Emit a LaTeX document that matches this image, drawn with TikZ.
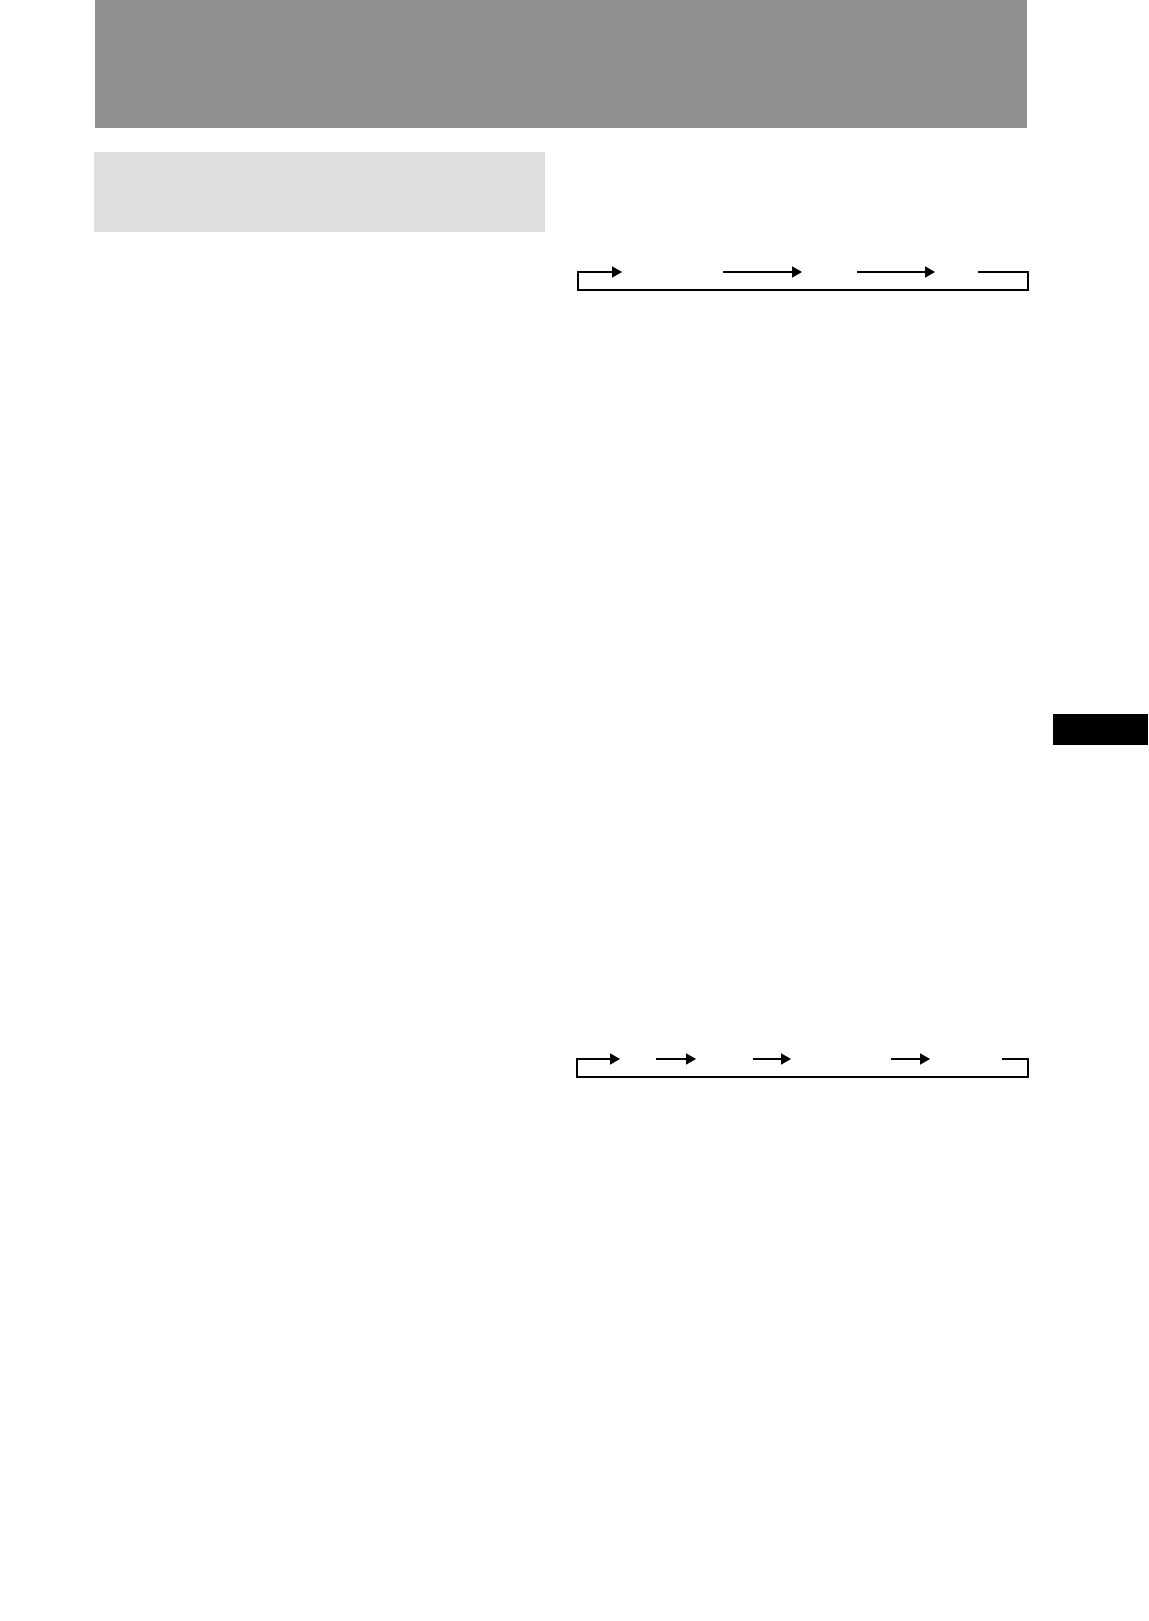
\documentclass[tikz,border=0pt]{standalone}
\usetikzlibrary{arrows.meta}
\definecolor{headgray}{HTML}{8F8F8F}
\definecolor{boxgray}{HTML}{DEDEDE}
\tikzset{flow/.style={line width=1.5pt,line join=miter,-{Triangle[length=10pt,width=11pt]}},
         loopline/.style={line width=1.5pt,line join=miter}}

\begin{document}
\begin{tikzpicture}[x=1pt,y=-1pt]
    \useasboundingbox (0,0) rectangle (1148,1621);
    \fill[headgray] (95,0) rectangle (1027,128);
    \fill[boxgray] (94,152) rectangle (545,232);
    \fill[black] (1053,714) rectangle (1148,745);
    % upper row
    \coordinate (a0) at (578,272);
    \coordinate (a1) at (622,272);
    \coordinate (a2) at (578,290);
    \coordinate (b0) at (723,272);
    \coordinate (b1) at (802,272);
    \coordinate (c0) at (857,272);
    \coordinate (c1) at (935,272);
    \coordinate (d0) at (978,272);
    \coordinate (d1) at (1028,272);
    \coordinate (d2) at (1028,290);
    \draw[flow] (d0) -- (d1) -- (d2) -- (a2) -- (a0) -- (a1);
    \draw[flow] (b0) -- (b1);
    \draw[flow] (c0) -- (c1);
    % lower row
    \coordinate (p0) at (577,1059);
    \coordinate (p1) at (620,1059);
    \coordinate (p2) at (577,1077);
    \coordinate (q0) at (656,1059);
    \coordinate (q1) at (696,1059);
    \coordinate (r0) at (753,1059);
    \coordinate (r1) at (791,1059);
    \coordinate (s0) at (891,1059);
    \coordinate (s1) at (930,1059);
    \coordinate (t0) at (1002,1059);
    \coordinate (t1) at (1028,1059);
    \coordinate (t2) at (1028,1077);
    \draw[flow] (t0) -- (t1) -- (t2) -- (p2) -- (p0) -- (p1);
    \draw[flow] (q0) -- (q1);
    \draw[flow] (r0) -- (r1);
    \draw[flow] (s0) -- (s1);
\end{tikzpicture}
\end{document}
